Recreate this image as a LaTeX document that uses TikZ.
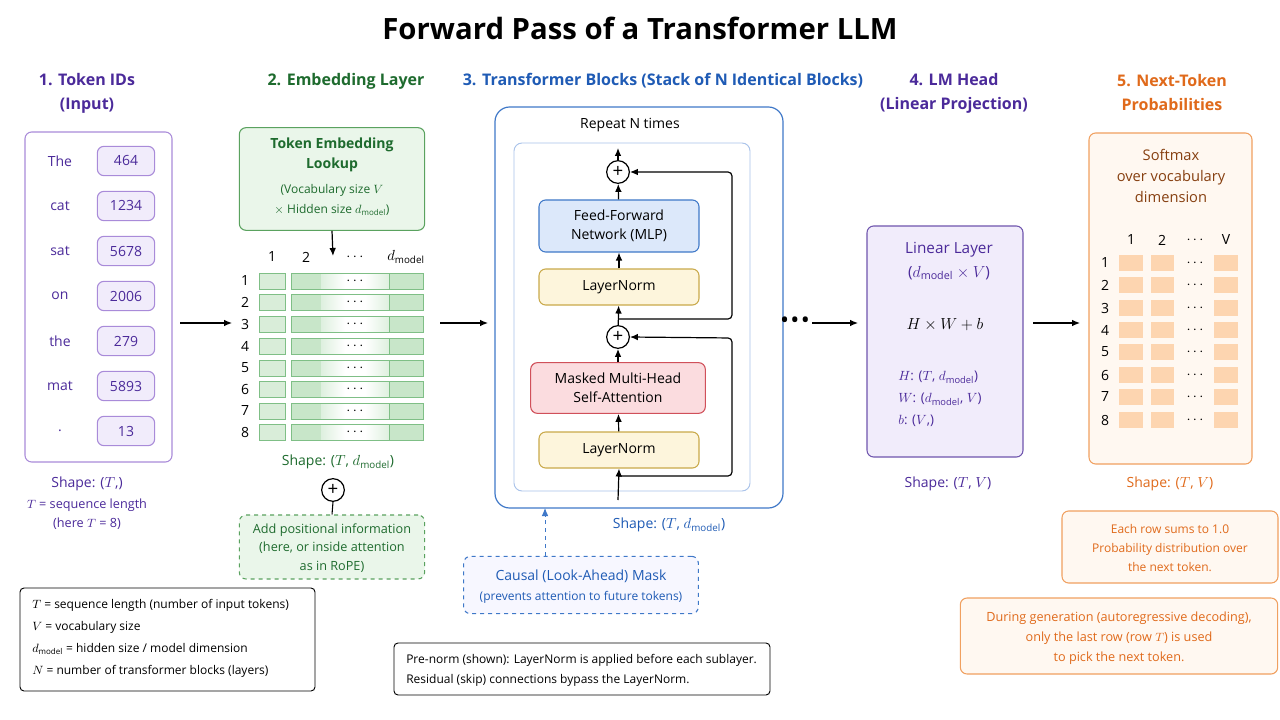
\documentclass[tikz,border=0pt]{standalone}
\usepackage{fontspec}
\setmainfont{Open Sans}
\usetikzlibrary{arrows.meta}
\definecolor{pur}{HTML}{4B2A9A}\definecolor{purB}{HTML}{A98BD9}\definecolor{purF}{HTML}{F1ECFB}
\definecolor{grn}{HTML}{1E6B2E}\definecolor{grnB}{HTML}{5AA25F}\definecolor{grnF}{HTML}{EAF6EA}
\definecolor{cellG}{HTML}{C8E6C9}\definecolor{cellGB}{HTML}{7FBF86}
\definecolor{blu}{HTML}{1F5BB5}\definecolor{bluB}{HTML}{3F78C8}\definecolor{bluL}{HTML}{A9C3EA}
\definecolor{ffnF}{HTML}{DCE8FA}\definecolor{lnF}{HTML}{FDF5DC}\definecolor{lnB}{HTML}{C9A94A}
\definecolor{mhaF}{HTML}{FBDCDF}\definecolor{mhaB}{HTML}{D0505A}
\definecolor{org}{HTML}{E06A1B}\definecolor{orgB}{HTML}{F0A060}\definecolor{orgF}{HTML}{FFF8F1}\definecolor{cellO}{HTML}{FDD5B0}
\newcommand{\dm}{d_{\mathrm{model}}}
\begin{document}
\begin{tikzpicture}[x=0.75pt,y=-0.75pt,
  txt/.style={inner sep=0pt,font=\fontsize{10.5}{13}\selectfont,align=center},
  sm/.style={inner sep=0pt,font=\fontsize{9}{11}\selectfont,align=center},
  head/.style={inner sep=0pt,font=\fontsize{12}{18}\bfseries\selectfont,align=center},
  arr/.style={-{Latex[length=6pt,width=5pt]},line width=0.9pt},
  box/.style={draw,rounded corners=5pt,line width=0.8pt},
  plus/.style={draw,circle,line width=0.9pt,minimum size=17pt,inner sep=0pt,font=\fontsize{14}{14}\selectfont}]
\useasboundingbox (0,0) rectangle (1280,720);
\fill[white] (0,0) rectangle (1280,720);
\node[inner sep=0pt,font=\fontsize{22}{24}\bfseries\selectfont] (title) at (640,28) {Forward Pass of a Transformer LLM};
% 1
\node[head,text=pur] (h1) at (87,93) {1. Token IDs\\(Input)};
\draw[box,draw=purB] (25,132) rectangle (172,462);
\foreach \w/\n/\y [count=\i] in {The/464/161,cat/1234/206,sat/5678/251,on/2006/296,the/279/341,mat/5893/386,./13/431}{
  \node[txt,text=pur] (w\i) at (60,\y) {\w};
  \node[box,draw=purB,fill=purF,text=pur,minimum width=43pt,minimum height=22pt,inner sep=0pt,font=\fontsize{10.5}{12}\selectfont] (id\i) at (126,\y) {\n};
}
\node[txt,text=pur] (s1) at (87,484) {Shape: ($T$,)};
\node[sm,text=pur,font=\fontsize{9.5}{14.5}\selectfont] (s1b) at (87,514) {$T$ = sequence length\\(here $T$ = 8)};
\coordinate (a1s) at (180,323); \coordinate (a1e) at (232,323);
\draw[arr] (a1s) -- (a1e);
% 2
\node[head,text=grn] (h2) at (346,81) {2. Embedding Layer};
\node[box,draw=grnB,fill=grnF,minimum width=139pt,minimum height=77pt] (emb) at (332,179) {};
\node[txt,text=grn,font=\fontsize{10.5}{15.5}\bfseries\selectfont] at (332,155) {Token Embedding\\Lookup};
\node[sm,text=grn,font=\fontsize{9}{15}\selectfont] at (332,200) {(Vocabulary size $V$\\$\times$ Hidden size $\dm$)};
\coordinate (embin) at (333,256);
\draw[arr] (emb.south) -- (embin);
\foreach \t/\x in {1/272,2/306,$\cdots$/355,$\dm$/406} \node[txt] at (\x,257) {\t};
\foreach \y [count=\i] in {281,302,324,346,368,389,411,432}{
  \node[txt] at (245,\y) {\i};
  \draw[fill=cellG!70,draw=cellGB,line width=0.5pt] (259,\y-8) rectangle (285,\y+8);
  \draw[fill=cellG,draw=cellGB,line width=0.5pt] (291,\y-8) rectangle (321,\y+8);
  \shade[left color=cellG!60,right color=white] (321,\y-8) rectangle (345,\y+8);
  \shade[left color=white,right color=cellG!60] (365,\y-8) rectangle (389,\y+8);
  \fill[white] (345,\y-8) rectangle (365,\y+8);
  \draw[cellGB,line width=0.5pt] (321,\y-8) -- (389,\y-8) (321,\y+8) -- (389,\y+8);
  \draw[fill=cellG,draw=cellGB,line width=0.5pt] (389,\y-8) rectangle (423,\y+8);
  \node[txt] at (355,\y) {$\cdots$};
}
\node[txt,text=grn] (s2) at (338,462) {Shape: ($T$, $\dm$)};
\node[plus] (p0) at (333,490) {+};
\node[box,dashed,draw=grnB,fill=grnF,minimum width=139pt,minimum height=48pt] (pos) at (332,547) {};
\node[sm,text=grn,font=\fontsize{9.5}{14}\selectfont] at (332,548) {Add positional information\\(here, or inside attention\\as in RoPE)};
\draw[line width=0.8pt] (pos.north) -- (p0.south);
\coordinate (a2s) at (440,323); \coordinate (a2e) at (488,323);
\draw[arr] (a2s) -- (a2e);
% 3
\node[head,text=blu] (h3) at (663,81) {3. Transformer Blocks (Stack of N Identical Blocks)};
\draw[draw=bluB,line width=0.9pt,rounded corners=11pt] (495,107) rectangle (783,508);
\node[txt] at (630,125) {Repeat N times};
\draw[draw=bluL,line width=0.7pt,rounded corners=6pt] (514,143) rectangle (750,491);
\node[plus] (pA) at (618,172) {+};
\node[box,draw=bluB,fill=ffnF,minimum width=120pt,minimum height=39pt,txt,font=\fontsize{10.5}{14}\selectfont] (ffn) at (619,226) {Feed-Forward\\Network (MLP)};
\node[box,draw=lnB,fill=lnF,minimum width=120pt,minimum height=27pt,txt] (ln1) at (619,287) {LayerNorm};
\node[plus] (pB) at (618,337) {+};
\node[box,draw=mhaB,fill=mhaF,minimum width=131pt,minimum height=38pt,txt,font=\fontsize{10.5}{14}\selectfont] (mha) at (618,388) {Masked Multi-Head\\Self-Attention};
\node[box,draw=lnB,fill=lnF,minimum width=120pt,minimum height=27pt,txt] (ln2) at (619,450) {LayerNorm};
\coordinate (inb) at (618,500); \coordinate (topo) at (618,148);
\coordinate (r1) at (618,476); \coordinate (r2) at (618,319);
\draw[arr] (inb) -- (ln2.south);
\draw[arr] (ln2) -- (mha); \draw[arr] (mha) -- (pB); \draw[arr] (pB) -- (ln1);
\draw[arr] (ln1) -- (ffn); \draw[arr] (ffn) -- (pA); \draw[arr] (pA) -- (topo);
\draw[arr,rounded corners=3pt] (r1) -- (732,476) -- (732,338) -- (pB.east);
\draw[arr,rounded corners=3pt] (r2) -- (732,319) -- (732,172) -- (pA.east);
\node[txt,text=blu] (s3) at (669,525) {Shape: ($T$, $\dm$)};
\node[box,dashed,draw=bluB,fill=blue!3,minimum width=176pt,minimum height=43pt] (mask) at (581,585) {};
\node[txt,text=blu] at (581,576) {Causal (Look-Ahead) Mask};
\node[sm,text=blu] at (581,597) {(prevents attention to future tokens)};
\coordinate (mtop) at (545,508);
\draw[arr,dashed,draw=bluB,line width=0.7pt] (mask.north -| mtop) -- (mtop);
\node[inner sep=0pt,font=\fontsize{18}{18}\selectfont] (dots) at (795,323) {•\kern1pt•\kern1pt•};
\coordinate (a3s) at (812,323); \coordinate (a3e) at (858,323);
\draw[arr] (a3s) -- (a3e);
% 4
\node[head,text=pur] (h4) at (954,93) {4. LM Head\\(Linear Projection)};
\draw[box,draw=pur!80,fill=purF] (867,226) rectangle (1023,457);
\node[txt,text=pur,font=\fontsize{11.5}{18}\selectfont] at (949,261) {Linear Layer\\($\dm\times V$)};
\node[txt,font=\fontsize{11.5}{14}\selectfont] at (945,325) {$H\times W+b$};
\node[txt,text=pur,align=left,anchor=west,font=\fontsize{10}{16.5}\selectfont] at (898,399) {$H$: ($T$, $\dm$)\\$W$: ($\dm$, $V$)\\$b$: ($V$,)};
\node[txt,text=pur] (s4) at (948,484) {Shape: ($T$, $V$)};
\coordinate (a4s) at (1033,323); \coordinate (a4e) at (1080,323);
\draw[arr] (a4s) -- (a4e);
% 5
\node[head,text=org] (h5) at (1172,93) {5. Next-Token\\Probabilities};
\draw[box,draw=orgB,fill=orgF] (1089,133) rectangle (1252,464);
\node[txt,text=org!60!black,font=\fontsize{11}{16}\selectfont] at (1171,176) {Softmax\\over vocabulary\\dimension};
\foreach \t/\x in {1/1131,2/1162,$\cdots$/1195,V/1226} \node[txt] at (\x,240) {\t};
\foreach \y [count=\i] in {263,285,308,330,352,375,397,420}{
  \node[txt] at (1105,\y) {\i};
  \fill[cellO] (1119,\y-8) rectangle (1143,\y+8);
  \fill[cellO] (1151,\y-8) rectangle (1174,\y+8);
  \fill[cellO] (1214,\y-8) rectangle (1238,\y+8);
  \node[txt] at (1195,\y) {$\cdots$};
}
\node[txt,text=org] (s5) at (1170,484) {Shape: ($T$, $V$)};
\node[box,draw=orgB,fill=orgF,minimum width=162pt,minimum height=54pt] (n1) at (1170,547) {};
\node[sm,text=org,font=\fontsize{9}{14}\selectfont] at (1170,548) {Each row sums to 1.0\\Probability distribution over\\the next token.};
\node[box,draw=orgB,fill=orgF,minimum width=238pt,minimum height=57pt] (n2) at (1119,636) {};
\node[sm,text=org,font=\fontsize{9.5}{15}\selectfont] at (1119,638) {During generation (autoregressive decoding),\\only the last row (row $T$) is used\\to pick the next token.};
% legend
\draw[box,draw=black,line width=0.7pt,rounded corners=3pt] (20,588) rectangle (315,691);
\node[sm,anchor=west,align=left,font=\fontsize{9}{16.5}\selectfont] (leg) at (32,638) {$T$ = sequence length (number of input tokens)\\$V$ = vocabulary size\\$\dm$ = hidden size / model dimension\\$N$ = number of transformer blocks (layers)};
\draw[box,draw=black,line width=0.7pt,rounded corners=3pt] (394,643) rectangle (770,695);
\node[sm,anchor=west,align=left,font=\fontsize{9}{15}\selectfont] (pre) at (406,670) {Pre-norm (shown): LayerNorm is applied before each sublayer.\\Residual (skip) connections bypass the LayerNorm.};
\end{tikzpicture}
\end{document}
